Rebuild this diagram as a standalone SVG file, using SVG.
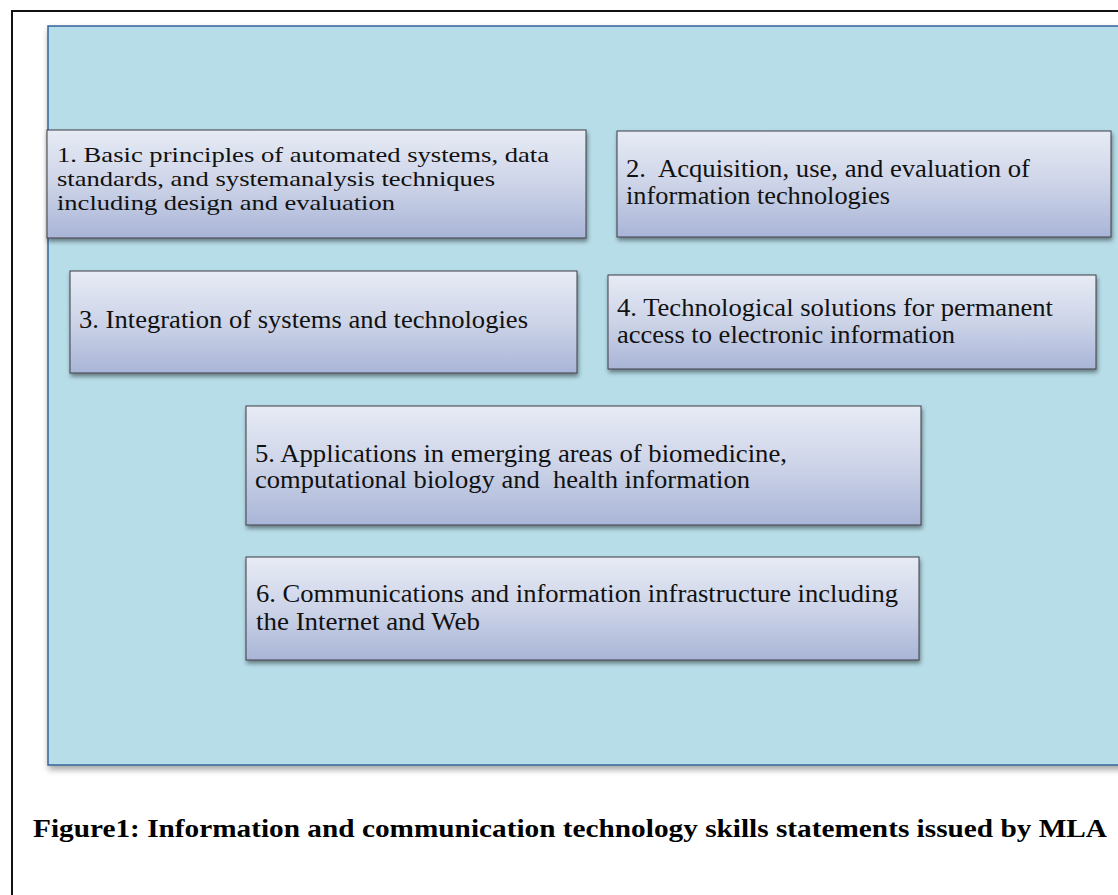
<svg xmlns="http://www.w3.org/2000/svg" width="1118" height="895" viewBox="0 0 1118 895">
  <defs>
    <linearGradient id="boxGrad" x1="0" y1="0" x2="0" y2="1">
      <stop offset="0" stop-color="#e7ebf5"/>
      <stop offset="0.5" stop-color="#cdd4e8"/>
      <stop offset="1" stop-color="#a9b5d7"/>
    </linearGradient>
    <filter id="shadow" x="-5%" y="-10%" width="115%" height="130%">
      <feDropShadow dx="1" dy="3" stdDeviation="2" flood-color="#000" flood-opacity="0.45"/>
    </filter>
    <filter id="panelShadow" x="-5%" y="-5%" width="115%" height="115%">
      <feDropShadow dx="1" dy="4" stdDeviation="3" flood-color="#000" flood-opacity="0.35"/>
    </filter>
  </defs>
  <style>
    .box { fill: url(#boxGrad); stroke: #3c3c46; stroke-width: 1; filter: url(#shadow); }
    .lbl { font-family: "Liberation Serif", "Times New Roman", serif; font-size: 24.5px; fill: #111; }
    .tight { font-size: 21.5px; }
    .cap { font-family: "Liberation Serif", "Times New Roman", serif; font-size: 25px; font-weight: bold; fill: #000; }
  </style>
  <rect x="0" y="0" width="1118" height="895" fill="#ffffff"/>
  <g id="frame">
    <rect x="12" y="11" width="1130" height="900" fill="none" stroke="#111" stroke-width="2"/>
  </g>
  <g id="panel">
    <rect x="48" y="26" width="1090" height="739" fill="#b7dde8" stroke="#36619a" stroke-width="1.5" filter="url(#panelShadow)"/>
  </g>
  <g id="node1">
    <rect class="box" x="47" y="130" width="539" height="108"/>
    <text class="lbl tight" x="57" y="162" textLength="492" lengthAdjust="spacingAndGlyphs">1. Basic principles of automated systems, data</text>
    <text class="lbl tight" x="57" y="186" textLength="438" lengthAdjust="spacingAndGlyphs">standards, and systemanalysis techniques</text>
    <text class="lbl tight" x="57" y="210" textLength="338" lengthAdjust="spacingAndGlyphs">including design and evaluation</text>
  </g>
  <g id="node2">
    <rect class="box" x="617" y="131" width="494" height="106"/>
    <text class="lbl" x="626" y="177" xml:space="preserve" textLength="404" lengthAdjust="spacingAndGlyphs">2.  Acquisition, use, and evaluation of</text>
    <text class="lbl" x="626" y="204" textLength="264" lengthAdjust="spacingAndGlyphs">information technologies</text>
  </g>
  <g id="node3">
    <rect class="box" x="70" y="271" width="507" height="102"/>
    <text class="lbl" x="79" y="328" textLength="449" lengthAdjust="spacingAndGlyphs">3. Integration of systems and technologies</text>
  </g>
  <g id="node4">
    <rect class="box" x="608" y="275" width="488" height="94"/>
    <text class="lbl" x="617" y="316" textLength="436" lengthAdjust="spacingAndGlyphs">4. Technological solutions for permanent</text>
    <text class="lbl" x="617" y="343" textLength="338" lengthAdjust="spacingAndGlyphs">access to electronic information</text>
  </g>
  <g id="node5">
    <rect class="box" x="246" y="406" width="675" height="119"/>
    <text class="lbl" x="255" y="462" textLength="532" lengthAdjust="spacingAndGlyphs">5. Applications in emerging areas of biomedicine,</text>
    <text class="lbl" x="255" y="488" xml:space="preserve" textLength="495" lengthAdjust="spacingAndGlyphs">computational biology and  health information</text>
  </g>
  <g id="node6">
    <rect class="box" x="246" y="557" width="673" height="103"/>
    <text class="lbl" x="256" y="602" textLength="642" lengthAdjust="spacingAndGlyphs">6. Communications and information infrastructure including</text>
    <text class="lbl" x="256" y="630" textLength="224" lengthAdjust="spacingAndGlyphs">the Internet and Web</text>
  </g>
  <g id="connectors"></g>
  <g id="caption">
    <text class="cap" x="33" y="837" textLength="1074" lengthAdjust="spacingAndGlyphs">Figure1: Information and communication technology skills statements issued by MLA</text>
  </g>
</svg>
